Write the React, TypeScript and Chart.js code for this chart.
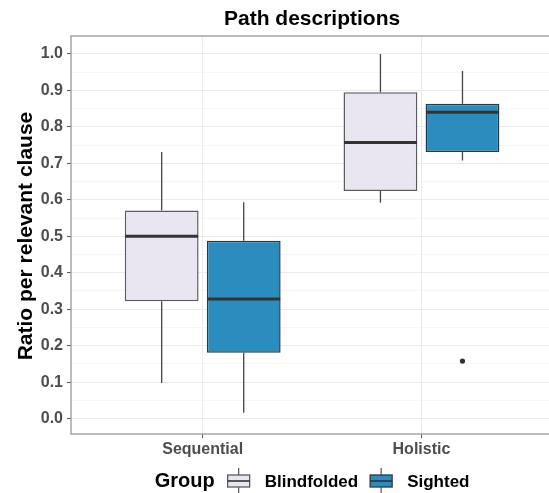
import React, { useEffect, useRef } from 'react';
import { Chart, registerables } from 'chart.js';

Chart.register(...registerables);

const FONT = '"Liberation Sans", Arial, Helvetica, sans-serif';

// ---- data ----
const categories = ['Sequential', 'Holistic'];
const groups = ['Blindfolded', 'Sighted'];

const blindWhiskerLow = [0.098, 0.592];
const blindQ1 = [0.322, 0.624];
const blindMedian = [0.5, 0.757];
const blindQ3 = [0.571, 0.895];
const blindWhiskerHigh = [0.731, 1.0];
const blindOutliers: number[][] = [[], []];

const sightedWhiskerLow = [0.016, 0.708];
const sightedQ1 = [0.181, 0.731];
const sightedMedian = [0.328, 0.84];
const sightedQ3 = [0.488, 0.863];
const sightedWhiskerHigh = [0.593, 0.953];
const sightedOutliers: number[][] = [[], [0.158]];

const yTickValues = [0, 0.1, 0.2, 0.3, 0.4, 0.5, 0.6, 0.7, 0.8, 0.9, 1.0];
const yTickLabels = ['0.0', '0.1', '0.2', '0.3', '0.4', '0.5', '0.6', '0.7', '0.8', '0.9', '1.0'];

const titleText = 'Path descriptions';
const yTitleText = 'Ratio per relevant clause';
const legendTitle = 'Group';

const groupFill = ['#E9E5F1', '#2B8CBE'];
const groupBorder = ['#5c5c5c', '#2a3a44'];

const isMajor = (v: number) => yTickValues.some((t) => Math.abs(t - v) < 1e-6);

function makeDataset(
  label: string,
  idx: number,
  low: number[],
  q1: number[],
  med: number[],
  q3: number[],
  high: number[],
  outliers: number[][]
) {
  return {
    label,
    data: categories.map((_, i) => ({ x: i + 1, y: [q1[i], q3[i]] })),
    backgroundColor: groupFill[idx],
    borderColor: groupBorder[idx],
    borderWidth: 1.5,
    borderSkipped: false,
    categoryPercentage: 0.75,
    barPercentage: 0.9,
    stats: { low, med, high, outliers },
  } as any;
}

const boxPlugin = {
  id: 'boxExtras',
  beforeDatasetsDraw(chart: any) {
    const { ctx } = chart;
    const y = chart.scales.y;
    chart.data.datasets.forEach((ds: any, d: number) => {
      const meta = chart.getDatasetMeta(d);
      meta.data.forEach((el: any, i: number) => {
        const { x } = el.getProps(['x'], true);
        const [q1, q3] = ds.data[i].y;
        ctx.save();
        ctx.strokeStyle = '#454545';
        ctx.lineWidth = 1.3;
        ctx.beginPath();
        ctx.moveTo(x, y.getPixelForValue(ds.stats.low[i]));
        ctx.lineTo(x, y.getPixelForValue(q1));
        ctx.moveTo(x, y.getPixelForValue(q3));
        ctx.lineTo(x, y.getPixelForValue(ds.stats.high[i]));
        ctx.stroke();
        ctx.restore();
      });
    });
  },
  afterDatasetsDraw(chart: any) {
    const { ctx } = chart;
    const y = chart.scales.y;
    chart.data.datasets.forEach((ds: any, d: number) => {
      const meta = chart.getDatasetMeta(d);
      meta.data.forEach((el: any, i: number) => {
        const { x, width } = el.getProps(['x', 'width'], true);
        const my = y.getPixelForValue(ds.stats.med[i]);
        ctx.save();
        ctx.strokeStyle = '#333333';
        ctx.lineWidth = 3;
        ctx.beginPath();
        ctx.moveTo(x - width / 2 + 0.5, my);
        ctx.lineTo(x + width / 2 - 0.5, my);
        ctx.stroke();
        ctx.fillStyle = '#333333';
        ds.stats.outliers[i].forEach((v: number) => {
          ctx.beginPath();
          ctx.arc(x, y.getPixelForValue(v), 2.6, 0, Math.PI * 2);
          ctx.fill();
        });
        ctx.restore();
      });
    });
  },
  afterDraw(chart: any) {
    const { ctx, chartArea } = chart;
    const xs = chart.scales.x;
    const cx = xs.getPixelForValue(1.5);
    ctx.save();
    // panel border
    ctx.strokeStyle = '#8f8f8f';
    ctx.lineWidth = 1.2;
    ctx.strokeRect(chartArea.left, chartArea.top, chartArea.right - chartArea.left + 20, chartArea.bottom - chartArea.top);

    // title
    ctx.fillStyle = '#000000';
    ctx.font = `bold 21px ${FONT}`;
    ctx.textAlign = 'center';
    ctx.textBaseline = 'alphabetic';
    ctx.fillText(titleText, cx, 25);

    // y title
    ctx.save();
    ctx.translate(32, (chartArea.top + chartArea.bottom) / 2 + 1);
    ctx.rotate(-Math.PI / 2);
    ctx.font = `bold 21px ${FONT}`;
    ctx.textAlign = 'center';
    ctx.fillText(yTitleText, 0, 0);
    ctx.restore();

    // legend
    const baseline = 486.5;
    ctx.font = `bold 20px ${FONT}`;
    const gW = ctx.measureText(legendTitle).width;
    ctx.font = `bold 17px ${FONT}`;
    const lW = chart.data.datasets.map((ds: any) => ctx.measureText(ds.label).width);
    const iconW = 22;
    const total = gW + 13 + lW.reduce((a: number, w: number) => a + iconW + 15 + w, 0) + 12 * (lW.length - 1);
    let lx = cx - total / 2;
    ctx.textAlign = 'left';
    ctx.font = `bold 20px ${FONT}`;
    ctx.fillStyle = '#000000';
    ctx.fillText(legendTitle, lx, baseline);
    lx += gW + 13;
    chart.data.datasets.forEach((ds: any, d: number) => {
      const mid = lx + iconW / 2;
      ctx.strokeStyle = '#555555';
      ctx.lineWidth = 1.2;
      ctx.beginPath();
      ctx.moveTo(mid, 468);
      ctx.lineTo(mid, 493);
      ctx.stroke();
      ctx.fillStyle = ds.backgroundColor;
      ctx.fillRect(lx, 475, iconW, 12);
      ctx.strokeStyle = ds.borderColor;
      ctx.lineWidth = 1.3;
      ctx.strokeRect(lx, 475, iconW, 12);
      ctx.strokeStyle = '#333333';
      ctx.lineWidth = 1.6;
      ctx.beginPath();
      ctx.moveTo(lx, 481);
      ctx.lineTo(lx + iconW, 481);
      ctx.stroke();
      lx += iconW + 15;
      ctx.fillStyle = '#000000';
      ctx.font = `bold 17px ${FONT}`;
      ctx.fillText(ds.label, lx, baseline);
      lx += lW[d] + 12;
    });
    ctx.restore();
  },
};

export default function App() {
  const ref = useRef<HTMLCanvasElement | null>(null);

  useEffect(() => {
    if (!ref.current) return;
    const chart = new Chart(ref.current, {
      type: 'bar',
      data: {
        datasets: [
          makeDataset(groups[0], 0, blindWhiskerLow, blindQ1, blindMedian, blindQ3, blindWhiskerHigh, blindOutliers),
          makeDataset(groups[1], 1, sightedWhiskerLow, sightedQ1, sightedMedian, sightedQ3, sightedWhiskerHigh, sightedOutliers),
        ],
      },
      options: {
        animation: false,
        responsive: false,
        devicePixelRatio: 1,
        layout: { padding: { top: 36, left: 0, right: 0, bottom: 0 } },
        plugins: {
          legend: { display: false },
          title: { display: false },
          tooltip: { enabled: false },
        },
        scales: {
          x: {
            type: 'linear',
            min: 0.398,
            max: 2.583,
            offset: false,
            afterBuildTicks: (scale: any) => {
              scale.ticks = categories.map((_, i) => ({ value: i + 1 }));
            },
            afterFit: (scale: any) => {
              scale.height = 59;
            },
            ticks: {
              callback: (v: any) => {
                const i = Math.round(Number(v)) - 1;
                return categories[i] ?? '';
              },
              font: { family: FONT, size: 16, weight: 'bold' },
              color: '#4D4D4D',
              padding: 2,
              maxRotation: 0,
              autoSkip: false,
            },
            grid: {
              offset: false,
              color: '#EBEBEB',
              lineWidth: 1.1,
              tickLength: 4,
              tickColor: '#555555',
              tickWidth: 1,
            },
            border: { display: false },
          },
          y: {
            type: 'linear',
            min: -0.042,
            max: 1.049,
            afterBuildTicks: (scale: any) => {
              const t: any[] = [];
              yTickValues.forEach((v, i) => {
                t.push({ value: v });
                if (i < yTickValues.length - 1) t.push({ value: (v + yTickValues[i + 1]) / 2 });
              });
              scale.ticks = t;
            },
            afterFit: (scale: any) => {
              scale.width = 71;
            },
            ticks: {
              callback: (v: any) => {
                const idx = yTickValues.findIndex((t) => Math.abs(t - Number(v)) < 1e-6);
                return idx >= 0 ? yTickLabels[idx] : '';
              },
              font: { family: FONT, size: 16, weight: 'bold' },
              color: '#4D4D4D',
              padding: 4,
              autoSkip: false,
            },
            grid: {
              color: (c: any) => (isMajor(c.tick.value) ? '#EBEBEB' : '#F4F4F4'),
              lineWidth: (c: any) => (isMajor(c.tick.value) ? 1.1 : 0.8),
              tickLength: 4,
              tickColor: (c: any) => (isMajor(c.tick.value) ? '#555555' : 'rgba(0,0,0,0)'),
              tickWidth: 1,
            },
            border: { display: false },
          },
        },
      } as any,
      plugins: [boxPlugin],
    });
    return () => chart.destroy();
  }, []);

  return (
    <div style={{ position: 'fixed', left: 0, top: 0, width: 549, height: 493, background: '#ffffff' }}>
      <canvas ref={ref} width={549} height={493} style={{ display: 'block' }} />
    </div>
  );
}
